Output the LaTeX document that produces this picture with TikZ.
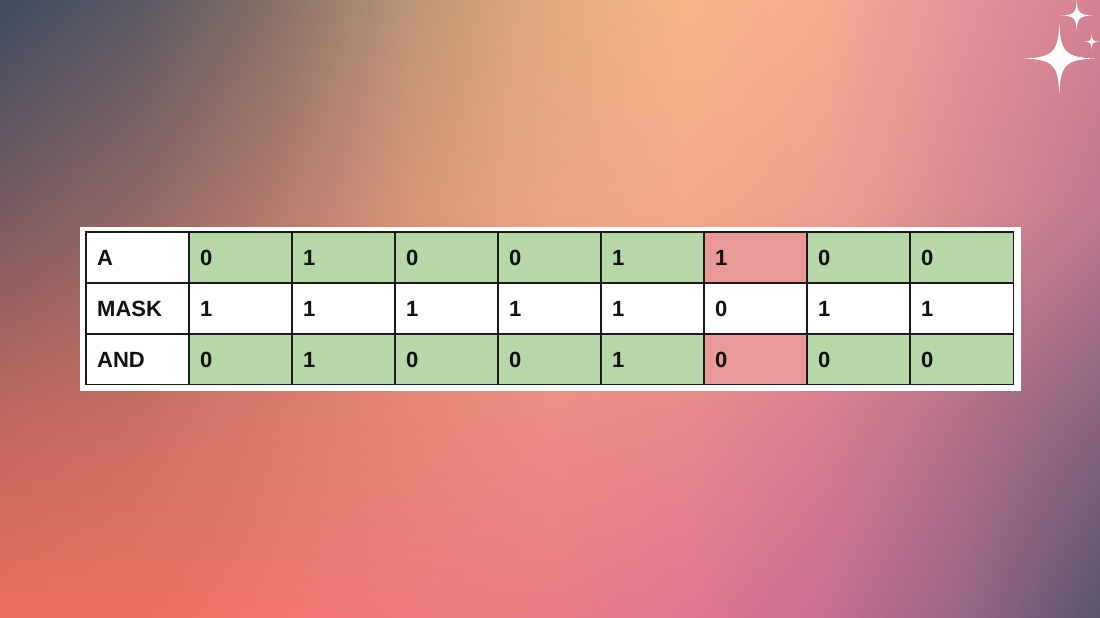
\documentclass[tikz,border=0pt]{standalone}
\usepackage{fontspec}
\setmainfont{Liberation Sans}
\definecolor{r0c0}{HTML}{3E4C63}\definecolor{r0c1}{HTML}{5A5864}\definecolor{r0c2}{HTML}{877066}
\definecolor{r0c3}{HTML}{BC9676}\definecolor{r0c4}{HTML}{E2AA80}\definecolor{r0c5}{HTML}{F8B48A}
\definecolor{r0c6}{HTML}{F8AA90}\definecolor{r0c7}{HTML}{E6929A}\definecolor{r0c8}{HTML}{D48092}
\definecolor{r1c0}{HTML}{765B61}\definecolor{r1c1}{HTML}{8F6866}\definecolor{r1c2}{HTML}{B27B6C}
\definecolor{r1c3}{HTML}{D8967A}\definecolor{r1c4}{HTML}{ECA686}\definecolor{r1c5}{HTML}{F4A88A}
\definecolor{r1c6}{HTML}{EEA090}\definecolor{r1c7}{HTML}{DA8A90}\definecolor{r1c8}{HTML}{C07890}
\definecolor{r2c0}{HTML}{C0685E}\definecolor{r2c1}{HTML}{C86E62}\definecolor{r2c2}{HTML}{D87A6C}
\definecolor{r2c3}{HTML}{E58676}\definecolor{r2c4}{HTML}{EC8E84}\definecolor{r2c5}{HTML}{E88A8C}
\definecolor{r2c6}{HTML}{D87E90}\definecolor{r2c7}{HTML}{B47088}\definecolor{r2c8}{HTML}{8A6480}
\definecolor{r3c0}{HTML}{E86C60}\definecolor{r3c1}{HTML}{EB6F63}\definecolor{r3c2}{HTML}{F07570}
\definecolor{r3c3}{HTML}{F07A7A}\definecolor{r3c4}{HTML}{EC7A84}\definecolor{r3c5}{HTML}{E07690}
\definecolor{r3c6}{HTML}{C86C92}\definecolor{r3c7}{HTML}{986688}\definecolor{r3c8}{HTML}{5A5470}
\definecolor{cellg}{HTML}{B6D7A8}
\definecolor{cellr}{HTML}{EA9999}
\definecolor{gridc}{HTML}{1A1A1A}
\definecolor{txt}{HTML}{111111}
\tikzset{
  cell/.style={minimum width=103bp, minimum height=51bp,
    anchor=north west, inner xsep=11bp, inner ysep=0bp, text width=81bp, align=left,
    text height=16bp, text depth=0bp, text=txt,
    font=\fontsize{22bp}{25bp}\selectfont\bfseries},
  lastrow/.style={minimum height=50bp},
  gridline/.style={draw=gridc, line width=1.5bp},
  sparkle/.pic={
    \fill[white] (0,1) .. controls (0.03,0.18) and (0.18,0.03) .. (1,0)
      .. controls (0.18,-0.03) and (0.03,-0.18) .. (0,-1)
      .. controls (-0.03,-0.18) and (-0.18,-0.03) .. (-1,0)
      .. controls (-0.18,0.03) and (-0.03,0.18) .. (0,1) -- cycle;
  }
}
\begin{document}
\begin{tikzpicture}[x=1bp,y=-1bp]
\useasboundingbox (0,0) rectangle (1100,618);
% background gradient
\foreach \i in {0,...,308}{%
  \pgfmathsetmacro{\yc}{2*\i+1}%
  \pgfmathtruncatemacro{\k}{min(2,floor(\yc/206))}%
  \pgfmathtruncatemacro{\kk}{\k+1}%
  \pgfmathsetmacro{\f}{(\yc-206*\k)/2.06}%
  \pgfmathsetmacro{\yy}{-2*\i}%
  \colorlet{s0}{r\kk c0!\f!r\k c0}%
  \colorlet{s1}{r\kk c1!\f!r\k c1}%
  \colorlet{s2}{r\kk c2!\f!r\k c2}%
  \colorlet{s3}{r\kk c3!\f!r\k c3}%
  \colorlet{s4}{r\kk c4!\f!r\k c4}%
  \colorlet{s5}{r\kk c5!\f!r\k c5}%
  \colorlet{s6}{r\kk c6!\f!r\k c6}%
  \colorlet{s7}{r\kk c7!\f!r\k c7}%
  \colorlet{s8}{r\kk c8!\f!r\k c8}%
  \pgfdeclarehorizontalshading{st\i}{2.8bp}{color(0bp)=(s0); color(137.5bp)=(s1); color(275bp)=(s2); color(412.5bp)=(s3); color(550bp)=(s4); color(687.5bp)=(s5); color(825bp)=(s6); color(962.5bp)=(s7); color(1100bp)=(s8)}%
  \pgftext[left,top,at={\pgfpoint{0bp}{\yy bp}}]{\pgfuseshading{st\i}}%
}
% sparkles
\pic[scale=35.5] at (1059.3,58.5) {sparkle};
\pic[scale=15.5] at (1076.7,15.5) {sparkle};
\pic[scale=7.5] at (1091.7,41.7) {sparkle};
% white card
\fill[white] (80,227) rectangle (1021,391);
% rows
\node[cell, fill=white] (hA) at (86,232) {A};
\node[cell, fill=white] (hM) at (86,283) {MASK};
\node[cell, lastrow, fill=white] (hN) at (86,334) {AND};
\foreach \v/\c [count=\n] in {0/cellg,1/cellg,0/cellg,0/cellg,1/cellg,1/cellr,0/cellg,0/cellg}
  \node[cell, fill=\c] (a\n) at ({86+103*\n},232) {\v};
\foreach \v [count=\n] in {1,1,1,1,1,0,1,1}
  \node[cell, fill=white] (m\n) at ({86+103*\n},283) {\v};
\foreach \v/\c [count=\n] in {0/cellg,1/cellg,0/cellg,0/cellg,1/cellg,0/cellr,0/cellg,0/cellg}
  \node[cell, lastrow, fill=\c] (r\n) at ({86+103*\n},334) {\v};
% cell borders
\foreach \nm in {hA,hM,hN,a1,a2,a3,a4,a5,a6,a7,a8,m1,m2,m3,m4,m5,m6,m7,m8,r1,r2,r3,r4,r5,r6,r7,r8}
  \draw[gridline] (\nm.north west) rectangle (\nm.south east);
\end{tikzpicture}
\end{document}
